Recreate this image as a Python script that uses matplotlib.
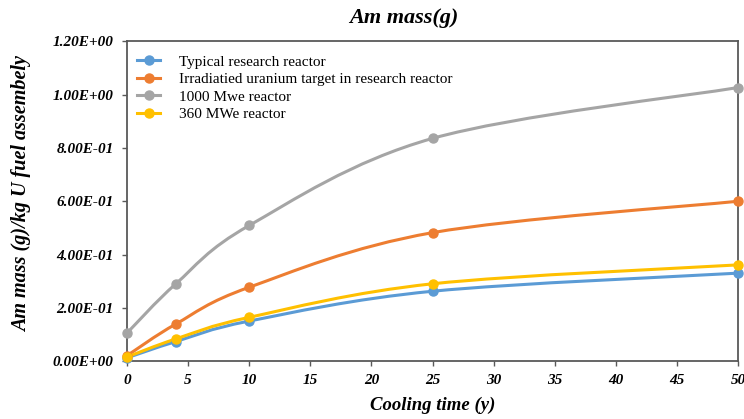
import numpy as np
import matplotlib
matplotlib.use("Agg")
import matplotlib.pyplot as plt
from matplotlib.path import Path
from matplotlib.patches import PathPatch
from matplotlib.lines import Line2D
from matplotlib.ticker import FuncFormatter

cooling_time = [0, 4, 10, 25, 50]
typical = [0.012, 0.073, 0.150, 0.262, 0.330]
irradiated = [0.020, 0.139, 0.277, 0.482, 0.600]
mwe_1000 = [0.105, 0.290, 0.509, 0.836, 1.027]
mwe_360 = [0.015, 0.083, 0.164, 0.290, 0.361]

labels = ["Typical research reactor",
          "Irradiatied uranium target in research reactor",
          "1000 Mwe reactor",
          "360 MWe reactor"]
colors = ["#5B9BD5", "#ED7D31", "#A5A5A5", "#FFC000"]
series = [typical, irradiated, mwe_1000, mwe_360]

serif = "Liberation Serif"


def smooth_path(x, y):
    # catmull-rom style bezier, like the smoothed lines in a spreadsheet chart
    pts = np.column_stack([x, y]).astype(float)
    p = np.vstack([pts[0], pts, pts[-1]])
    verts = [pts[0]]
    codes = [Path.MOVETO]
    for i in range(1, len(p) - 2):
        c1 = p[i] + (p[i + 1] - p[i - 1]) / 6
        c2 = p[i + 1] - (p[i + 2] - p[i]) / 6
        verts += [c1, c2, p[i + 1]]
        codes += [Path.CURVE4] * 3
    return Path(verts, codes)


fig = plt.figure(figsize=(7.44, 4.19), dpi=100)
ax = fig.add_axes([0.1707, 0.1384, 0.8213, 0.7626])

handles = []
for ys, c, lab in zip(series, colors, labels):
    patch = PathPatch(smooth_path(cooling_time, ys), fill=False, edgecolor=c,
                      lw=2.2, zorder=3)
    ax.add_patch(patch)
    ax.plot(cooling_time, ys, "o", color=c, ms=6.5, zorder=4, clip_on=False)
    handles.append(Line2D([], [], color=c, lw=2.2, marker="o", ms=6.5))

ax.set_xlim(0, 50)
ax.set_ylim(0, 1.2)
ax.set_xticks(np.arange(0, 51, 5))
ax.set_yticks(np.arange(0, 1.21, 0.2))
ax.yaxis.set_major_formatter(FuncFormatter(lambda v, p: "%.2E" % v))

for s in ax.spines.values():
    s.set_color("#595959")
    s.set_linewidth(1.3)
ax.tick_params(axis="both", direction="out", length=3.5, width=1, color="#595959",
               pad=6)
for t in ax.get_xticklabels() + ax.get_yticklabels():
    t.set_fontfamily(serif)
    t.set_fontweight("bold")
    t.set_fontstyle("italic")
    t.set_fontsize(11)

# title sits a bit left of the plot centre in the original
ax.set_title("Am mass(g)", fontfamily=serif, fontweight="bold", fontstyle="italic",
             fontsize=16, pad=13, x=0.453)
ax.set_xlabel("Cooling time (y)", fontfamily=serif, fontweight="bold",
              fontstyle="italic", fontsize=13.5, labelpad=7)
ax.set_ylabel("Am mass (g)/kg U fuel assembely", fontfamily=serif, fontweight="bold",
              fontstyle="italic", fontsize=14.5)
ax.yaxis.set_label_coords(-0.155, 0.523)

ax.legend(handles, labels, loc="upper left", bbox_to_anchor=(-0.002, 0.994),
          frameon=False, prop={"family": serif, "size": 11}, handlelength=1.5,
          labelspacing=0.25, borderaxespad=0.4, handletextpad=1.25,
          borderpad=0.35)

fig.savefig("out.png", dpi=100)
